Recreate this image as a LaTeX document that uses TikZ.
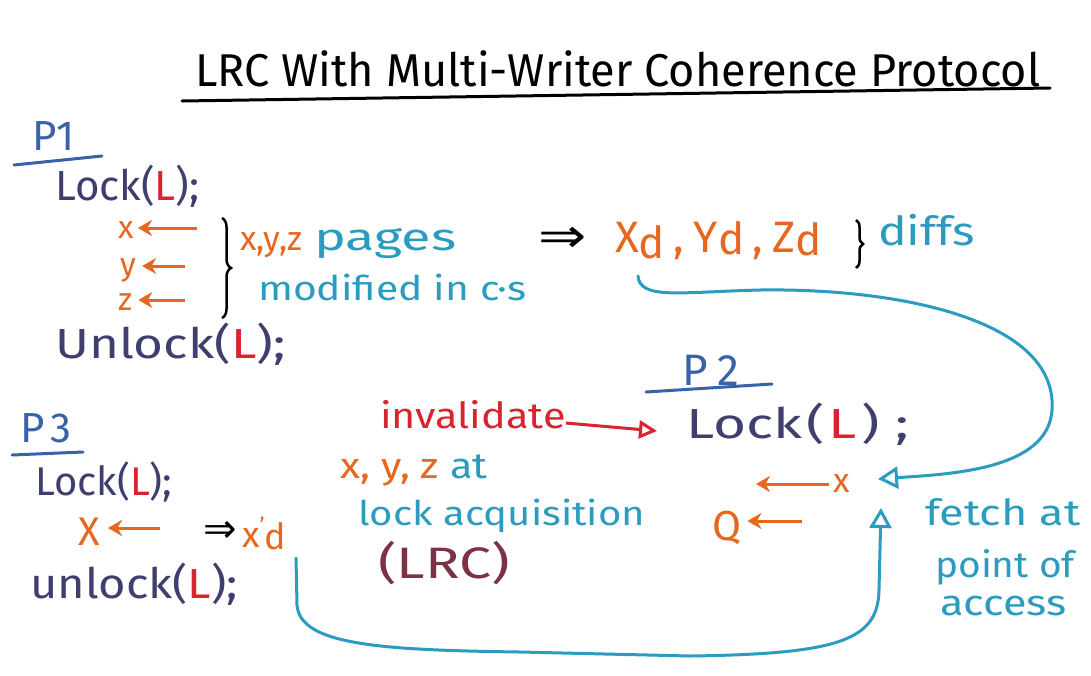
\documentclass[tikz,border=0pt]{standalone}
\usepackage{fontspec}
\setmainfont{Fira Sans}
\newfontfamily\dvs{DejaVu Sans}
\usetikzlibrary{arrows.meta,decorations.pathreplacing}
\definecolor{navy}{HTML}{3E3F6E}
\definecolor{pblue}{HTML}{3A62A8}
\definecolor{hred}{HTML}{D9232E}
\definecolor{horange}{HTML}{E8671F}
\definecolor{hteal}{HTML}{2B9CBF}
\definecolor{hmaroon}{HTML}{7B3343}
\newcommand\fsz[1]{\fontsize{#1}{#1}\selectfont}
\newcommand\hL{\textcolor{hred}{L}}
\newcommand\sx[2]{\scalebox{#1}[1]{#2}}
\begin{document}
\begin{tikzpicture}[x=1pt,y=-1pt,
  txt/.style={inner sep=0pt, anchor=base west, font=\fsz{#1}},
  txt/.default=34,
  orangearrow/.style={horange, line width=3pt, -{Stealth[length=14pt,width=16pt]}},
  tealline/.style={hteal, line width=3pt, line cap=round},
  tealarrow/.style={tealline, -{Triangle[open,length=20pt,width=22pt,line width=3pt]}},
  redarrow/.style={hred, line width=3pt, -{Triangle[open,length=18pt,width=18pt,line width=3pt]}},
  uline/.style={line width=3pt, line cap=round},
  imp/.style={inner sep=0pt, font=\dvs\fsz{#1}},
  imp/.default=48
]
\useasboundingbox[fill=white] (0,0) rectangle (1091,675);

% title
\node[txt=46] (title) at (195,86) {\sx{0.98}{LRC With Multi-Writer Coherence Protocol}};
\draw[uline, black] (182,101) -- (1050,88);

% P1
\node[txt=42, text=pblue] (p1) at (32,150) {P1};
\draw[uline, pblue] (14,165) -- (102,156);
\node[txt=42, text=navy] (lock1) at (55,200) {Lock(\hL);};
\node[txt=32, text=horange] (x1) at (118,238) {x};
\node[txt=32, text=horange] (y1) at (120,275) {y};
\node[txt=32, text=horange] (z1) at (118,310) {z};
\coordinate (x1a) at (197,228);
\coordinate (y1a) at (185,266);
\coordinate (z1a) at (185,300);
\draw[orangearrow] (x1a) -- ([xshift=4pt]x1.east |- x1a);
\draw[orangearrow] (y1a) -- ([xshift=6pt]y1.east |- y1a);
\draw[orangearrow] (z1a) -- ([xshift=6pt]z1.east |- z1a);
\coordinate (b1top) at (222,218);
\coordinate (b1bot) at (222,318);
\draw[black, line width=2.5pt, decorate, decoration={brace, amplitude=9pt, mirror}] (b1bot) -- (b1top);
\node[txt=34, text=horange] (xyz1) at (240,250) {x,y,z};
\node[txt=38, text=hteal] (pages) at (314,250) {\sx{1.42}{pages}};
\node[txt=34, text=hteal] (modified) at (258,300) {\sx{1.2}{modified in c·s}};
\node[txt=42, text=navy] (unlock1) at (55,358) {\sx{1.22}{Unlock(\hL);}};

\node[imp] (imp1) at (563,240) {\sx{1.2}{⇒}};
\node[txt=44, text=horange] (xd) at (615,252) {X\raisebox{-6pt}{d}\hspace{8pt},\hspace{10pt}Y\raisebox{-2pt}{d}\hspace{8pt},\hspace{10pt}Z\raisebox{-3pt}{d}};
\coordinate (b2top) at (856,220);
\coordinate (b2bot) at (856,268);
\draw[black, line width=2.5pt, decorate, decoration={brace, amplitude=7pt, mirror}] (b2bot) -- (b2top);
\node[txt=40, text=hteal] (diffs) at (878,245) {\sx{1.2}{diffs}};

% P2
\node[txt=44, text=pblue] (p2) at (682,385) {P\hspace{10pt}2};
\draw[uline, pblue] (646,392) -- (772,384);
\node[txt=42, text=navy] (lock2) at (686,438) {\sx{1.35}{Lock\hspace{3pt}(\hspace{3pt}\hL\hspace{3pt})\hspace{12pt};}};
\node[txt=36, text=hred] (inval) at (380,428) {\sx{1.15}{invalidate}};
\coordinate (ia) at (657,431);
\draw[redarrow] ([yshift=5pt]inval.base east) -- (ia);
\node[txt=34, text=horange] (x2) at (833,492) {x};
\coordinate (x2a) at (756,484);
\draw[orangearrow] ([xshift=-4pt]x2.west |- x2a) -- (x2a);
\node[txt=42, text=horange] (q) at (712,540) {Q};
\coordinate (qa) at (802,521);
\draw[orangearrow] (qa) -- ([xshift=6pt]q.east |- qa);

\node[txt=36, text=horange] (xyz3) at (340,478) {\sx{1.15}{x, y, z \textcolor{hteal}{at}}};
\node[txt=34, text=hteal] (lockacq) at (358,525) {\sx{1.18}{lock acquisition}};
\node[txt=44, text=hmaroon] (lrc) at (378,578) {\sx{1.3}{(LRC)}};

\node[txt=36, text=hteal] (fetch) at (925,525) {\sx{1.25}{fetch at}};
\node[txt=36, text=hteal] (point) at (935,577) {\sx{1.08}{point of}};
\node[txt=36, text=hteal] (access) at (940,615) {\sx{1.2}{access}};

% P3
\node[txt=42, text=pblue] (p3) at (20,442) {P\hspace{6pt}3};
\draw[uline, pblue] (12,455) -- (83,452);
\node[txt=40, text=navy] (lock3) at (35,495) {Lock(\hL);};
\node[txt=40, text=horange] (x3) at (78,545) {X};
\coordinate (x3a) at (160,528);
\draw[orangearrow] (x3a) -- ([xshift=8pt]x3.east |- x3a);
\node[imp=40] (imp3) at (220,532) {⇒};
\node[txt=36, text=horange] (xd3) at (242,547) {x\raisebox{14pt}{\fsz{22}'}\raisebox{-2pt}{d}};
\node[txt=42, text=navy] (unlock3) at (30,598) {\sx{1.12}{unlock(\hL);}};

% connectors
\coordinate (c1) at (638,276);
\coordinate (t1) at (878,479);
\draw[tealarrow] (c1) .. controls (640,300) and (680,292) .. (760,290)
   .. controls (900,288) and (1058,320) .. (1052,410)
   .. controls (1048,470) and (950,474) .. (t1);
\coordinate (c2) at (296,558);
\coordinate (t2) at (881,508);
\draw[tealarrow] (c2) -- (297,605) .. controls (300,645) and (380,650) .. (520,652)
   -- (690,656) .. controls (840,654) and (878,640) .. (879,590) -- (t2);
\end{tikzpicture}
\end{document}
